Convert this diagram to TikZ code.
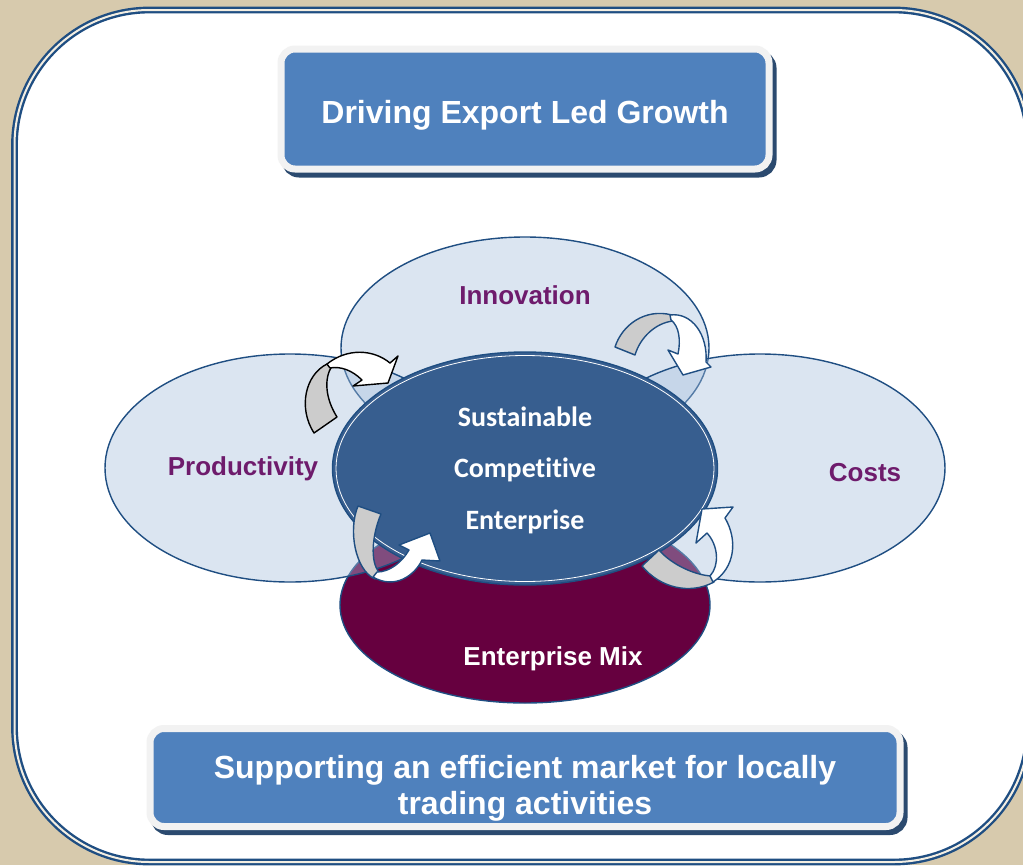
\documentclass[tikz,border=0pt]{standalone}
\usepackage{fontspec}
\setmainfont{Liberation Sans}
\newfontfamily\corefont[Ligatures=NoCommon]{Carlito}
\usetikzlibrary{shapes.geometric,positioning}

\definecolor{tan}{HTML}{D7CAAD}
\definecolor{rimblue}{HTML}{1F4E82}
\definecolor{cream}{HTML}{F3EEE2}
\definecolor{boxblue}{HTML}{4F81BD}
\definecolor{boxrim}{HTML}{F2F2F2}
\definecolor{boxshadow}{HTML}{2B4A6F}
\definecolor{paleblue}{HTML}{A7C0DE}
\definecolor{coreblue}{HTML}{375E8F}
\definecolor{maroon}{HTML}{66003F}
\definecolor{plum}{HTML}{6E1B6C}
\definecolor{backgray}{HTML}{CCCCCC}

\tikzset{
  panel/.style={rounded corners=14pt, fill=boxblue, draw=boxrim, line width=7pt, inner sep=0pt,
    preaction={draw=boxshadow, fill=boxshadow, line width=7pt, transform canvas={xshift=4pt, yshift=-5pt}}},
  paneltext/.style={text=white, font=\bfseries\fontsize{32}{36}\selectfont, anchor=base, inner sep=0pt},
  bubble/.style={ellipse, draw=rimblue, line width=1.4pt, fill=paleblue, fill opacity=0.4, inner sep=0pt},
  bubbletext/.style={text=plum, font=\bfseries\fontsize{26}{30}\selectfont, anchor=base, inner sep=0pt},
  coretext/.style={text=white, font=\corefont\bfseries\fontsize{28}{32}\selectfont, anchor=base, inner sep=0pt},
  turn/.style={line width=1.4pt, line join=round, draw=rimblue}
}

\begin{document}
\begin{tikzpicture}[x=1pt,y=-1pt]

% Backdrop
\useasboundingbox (0,0) rectangle (1023,865);
\clip (0,0) rectangle (1023,865);
\fill[tan] (0,0) rectangle (1023,865);
\draw[rimblue, fill=white, line width=2.4pt, double=cream, double distance=2pt, rounded corners=135pt]
  (14.5,10) rectangle (1029,862);

% Heading and footer
\node[panel, minimum width=488, minimum height=120] (head) at (525,109) {};
\node[paneltext] (headtxt) at (525,123.5) {Driving Export Led Growth};
\node[panel, minimum width=750, minimum height=98] (foot) at (525,777.5) {};
\node[paneltext] (foot1) at (525,778.5) {Supporting an efficient market for locally};
\node[paneltext] (foot2) at (525,814.5) {trading activities};

% Outer bubbles
\node[ellipse, draw=rimblue, line width=1.4pt, fill=maroon, inner sep=0pt,
  minimum width=370, minimum height=196] (mix) at (525,605) {};
\node[bubble, minimum width=368, minimum height=222] (inno) at (525,348) {};
\node[bubble, minimum width=370, minimum height=228] (prod) at (290,468) {};
\node[bubble, minimum width=370, minimum height=228] (cost) at (760,468) {};

% Core
\node[ellipse, draw=rimblue, line width=1.4pt, fill=coreblue, inner sep=0pt,
  minimum width=385, minimum height=233] (core) at (525,468.5) {};
\node[ellipse, draw=white, line width=0.8pt, inner sep=0pt,
  minimum width=378, minimum height=226] (corering) at (core.center) {};

% Labels
\node[bubbletext] (innotxt) at (525,304) {Innovation};
\node[bubbletext] (prodtxt) at (243,475) {Productivity};
\node[bubbletext] (costtxt) at (865,481) {Costs};
\node[bubbletext, text=white] (mixtxt) at (553,665) {Enterprise Mix};
\node[coretext] (core1) at (525,426) {Sustainable};
\node[coretext] (core2) at (525,477) {Competitive};
\node[coretext] (core3) at (525,529) {Enterprise};

% Turning arrows
\draw[turn, draw=black, fill=backgray] (314,433) -- (337,417) .. controls (325,398) and (324,378) .. (332,366)
  -- (327,364) .. controls (305,375) and (298,408) .. (314,433) -- cycle;
\draw[turn, draw=black, fill=white] (327,364) .. controls (347,348) and (373,349) .. (390,363) -- (398,356)
  -- (388,383) -- (353,386) -- (362,380) .. controls (352,370) and (340,366) .. (330,368) -- cycle;

\draw[turn, fill=backgray] (615,347) .. controls (622,325) and (645,308) .. (672,315)
  -- (673,321) .. controls (655,323) and (640,338) .. (635,355) -- cycle;
\draw[turn, fill=white] (670,315) .. controls (692,312) and (708,335) .. (706,362) -- (711,367)
  -- (683,375) -- (668,350) -- (678,354) .. controls (681,340) and (679,326) .. (671,320) -- cycle;

\draw[turn, fill=backgray] (358,506) -- (381,514) .. controls (372,535) and (370,562) .. (379,572)
  -- (375,579) .. controls (355,570) and (348,530) .. (358,506) -- cycle;
\draw[turn, fill=white] (373,577) .. controls (395,590) and (415,575) .. (422,560) -- (440,561)
  -- (430,533) -- (399,545) -- (409,550) .. controls (402,562) and (390,572) .. (377,572) -- cycle;

\draw[turn, fill=backgray] (642,566) -- (659,550) .. controls (672,565) and (695,575) .. (711,576)
  -- (714,582) .. controls (690,595) and (660,588) .. (642,566) -- cycle;
\draw[turn, fill=white] (710,576) .. controls (720,565) and (718,545) .. (707,533) -- (696,543)
  -- (702,509) -- (733,507) -- (725,518) .. controls (738,540) and (735,568) .. (713,582) -- cycle;

\end{tikzpicture}
\end{document}
